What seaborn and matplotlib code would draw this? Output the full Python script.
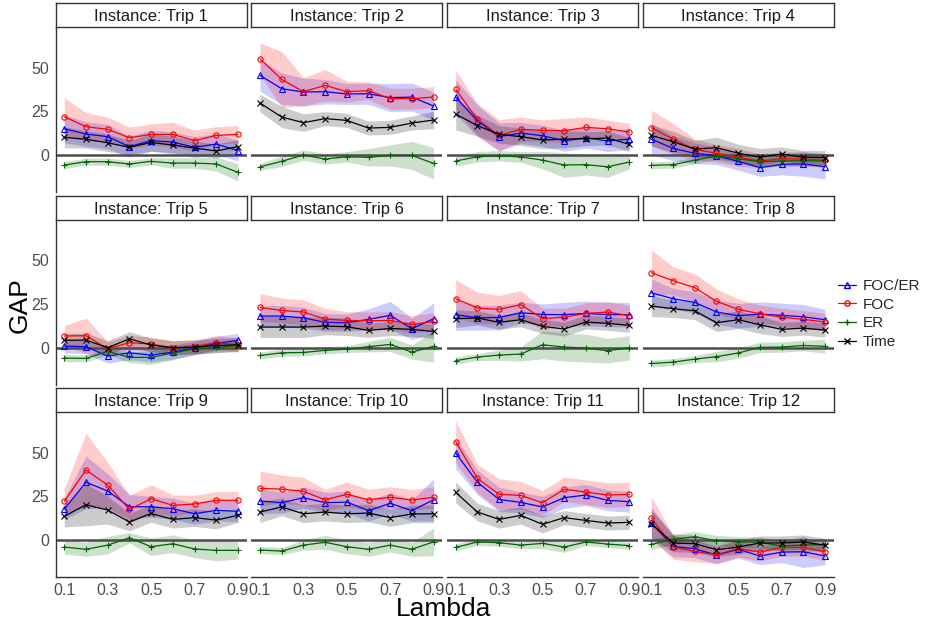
import numpy as np
import pandas as pd
import matplotlib
matplotlib.use("Agg")
import matplotlib.pyplot as plt
from matplotlib.lines import Line2D
import seaborn as sns

# ---- data -------------------------------------------------------------
lambdas = [0.1, 0.2, 0.3, 0.4, 0.5, 0.6, 0.7, 0.8, 0.9]
trips = [f"Instance: Trip {i}" for i in range(1, 13)]
series_names = ["FOC/ER", "FOC", "ER", "Time"]

foc_er_gap = [
    [15.0, 12.0, 10.5, 4.8, 8.2, 7.4, 4.4, 6.3, 2.5],
    [45.5, 37.9, 36.0, 36.2, 34.9, 35.0, 32.8, 33.1, 28.0],
    [33.0, 19.6, 10.5, 12.6, 11.0, 8.2, 9.9, 8.0, 9.1],
    [9.1, 3.8, 1.0, -0.4, -3.6, -7.2, -5.3, -5.1, -6.7],
    [1.0, 0.6, -4.8, -2.9, -4.2, -2.5, -0.2, 2.5, 4.2],
    [18.1, 18.1, 17.1, 14.5, 14.3, 16.2, 18.5, 10.9, 16.6],
    [18.9, 17.1, 17.3, 20.0, 19.0, 18.9, 19.6, 18.9, 18.9],
    [31.4, 28.0, 25.9, 20.4, 18.3, 19.2, 18.5, 17.7, 16.0],
    [17.7, 33.0, 28.0, 19.0, 19.0, 17.9, 15.0, 17.0, 16.4],
    [22.3, 21.3, 24.2, 21.3, 21.7, 16.8, 21.0, 16.8, 23.0],
    [49.7, 33.0, 23.2, 21.5, 18.9, 24.2, 25.7, 22.7, 21.9],
    [9.7, -3.6, -5.0, -8.6, -5.3, -9.1, -6.9, -6.7, -9.1],
]
foc_gap = [
    [21.9, 16.2, 14.7, 9.9, 11.8, 11.8, 8.2, 11.2, 11.8],
    [55.0, 43.2, 36.2, 39.8, 36.2, 36.8, 32.2, 32.2, 33.1],
    [37.5, 20.4, 11.2, 14.7, 14.1, 13.9, 15.8, 15.0, 13.1],
    [15.6, 9.1, 3.2, 1.0, -1.3, -3.4, -2.1, -2.3, -3.0],
    [6.7, 6.9, -0.6, 2.9, 2.1, 0.0, 0.6, 2.9, 1.7],
    [23.0, 21.3, 20.4, 16.4, 15.6, 15.4, 15.6, 13.3, 15.0],
    [28.0, 22.7, 21.9, 24.6, 16.6, 17.5, 19.6, 20.4, 18.3],
    [42.9, 38.3, 34.3, 26.5, 21.9, 19.4, 17.5, 16.2, 14.7],
    [22.1, 40.0, 31.4, 17.5, 23.6, 19.8, 20.6, 22.7, 22.7],
    [29.5, 29.1, 27.8, 23.0, 26.1, 23.0, 24.4, 22.9, 24.4],
    [56.2, 35.2, 26.1, 25.5, 21.3, 29.0, 27.4, 25.7, 26.1],
    [12.6, -4.0, -6.5, -8.4, -4.8, -6.9, -4.2, -4.2, -6.7],
]
er_gap = [
    [-5.7, -3.8, -3.8, -5.1, -3.6, -4.6, -4.6, -5.1, -9.9],
    [-6.7, -3.6, 0.0, -2.3, -1.0, -1.3, -0.2, -0.2, -4.8],
    [-3.4, -1.0, -0.4, -1.1, -2.9, -5.7, -5.5, -6.7, -4.0],
    [-5.9, -5.5, -2.9, -0.6, -2.1, -3.8, -3.4, -3.2, -3.4],
    [-5.9, -6.1, -2.1, -5.5, -5.5, -3.0, -0.6, 0.2, 1.3],
    [-4.4, -2.9, -2.7, -1.5, -0.8, 0.6, 1.9, -2.5, 0.8],
    [-7.4, -5.3, -4.2, -3.6, 1.7, 0.4, -0.2, -1.7, 0.0],
    [-9.0, -8.2, -6.5, -5.1, -3.0, 0.2, 0.4, 1.3, 0.8],
    [-4.0, -5.3, -2.9, 1.3, -3.8, -2.1, -5.1, -5.9, -5.9],
    [-5.7, -6.3, -2.9, -1.3, -3.8, -5.3, -2.9, -5.3, -1.0],
    [-4.2, -1.1, -1.5, -2.9, -1.9, -4.0, -1.1, -2.3, -3.2],
    [-2.5, 0.4, 1.9, -0.4, -1.0, -1.3, -3.4, -2.9, -2.5],
]
time_gap = [
    [10.1, 9.0, 7.0, 4.4, 7.2, 5.7, 4.0, 2.3, 4.8],
    [29.7, 21.7, 18.5, 20.8, 19.8, 15.4, 15.8, 18.3, 20.0],
    [23.4, 16.8, 11.8, 10.5, 8.6, 9.1, 9.3, 9.7, 6.1],
    [11.2, 7.6, 3.4, 4.2, 1.1, -1.3, 0.6, -1.3, -1.5],
    [4.2, 4.4, 0.0, 5.1, 1.5, 0.0, 0.4, 1.3, 1.7],
    [11.8, 11.8, 11.8, 12.4, 12.0, 9.9, 11.0, 10.5, 9.3],
    [16.6, 17.0, 14.5, 16.0, 12.2, 10.7, 14.7, 13.9, 12.8],
    [23.8, 22.3, 21.1, 14.3, 16.0, 13.1, 10.5, 11.2, 10.1],
    [13.5, 20.2, 17.1, 10.3, 15.2, 11.8, 12.8, 11.4, 14.1],
    [16.0, 18.9, 15.0, 16.0, 15.0, 15.4, 12.8, 14.9, 15.0],
    [27.2, 16.0, 11.8, 14.1, 9.0, 12.8, 11.2, 9.7, 10.1],
    [9.3, -1.7, -2.1, -5.5, -4.0, -1.7, -1.7, -1.1, -3.0],
]

# half-widths of the shaded bands around each series
foc_er_band = [
    [8, 7, 7, 6, 6, 6, 6, 6, 6],
    [9, 9, 8, 7, 6, 6, 8, 8, 8],
    [10, 9, 8, 6, 6, 6, 6, 6, 6],
    [9, 7, 6, 5, 5, 5, 6, 7, 7],
    [4, 4, 4, 4, 4, 4, 4, 4, 4],
    [6, 6, 6, 5, 5, 6, 8, 6, 9],
    [9, 7, 7, 6, 6, 7, 7, 7, 7],
    [8, 6, 6, 7, 7, 7, 7, 7, 6],
    [6, 15, 10, 7, 6, 6, 6, 6, 6],
    [7, 6, 6, 6, 6, 6, 6, 6, 12],
    [9, 7, 7, 6, 6, 6, 6, 6, 6],
    [9, 6, 5, 5, 5, 5, 6, 9, 5],
]
foc_band = [
    [11, 8, 7, 6, 6, 7, 6, 5, 5],
    [9, 16, 8, 9, 6, 5, 6, 6, 6],
    [11, 9, 9, 7, 6, 7, 6, 5, 5],
    [10, 9, 6, 5, 5, 4, 4, 4, 4],
    [6, 10, 4, 4, 4, 4, 4, 4, 4],
    [8, 7, 7, 6, 5, 5, 5, 5, 5],
    [11, 9, 8, 8, 6, 5, 6, 6, 6],
    [13, 8, 8, 7, 6, 5, 5, 5, 5],
    [7, 21, 13, 8, 8, 6, 5, 5, 5],
    [10, 8, 8, 6, 7, 6, 6, 6, 6],
    [12, 8, 9, 8, 7, 7, 7, 7, 7],
    [12, 7, 6, 5, 5, 5, 5, 5, 5],
]
er_band = [
    [2, 2, 2, 2, 2, 3, 3, 4, 5],
    [2, 3, 3, 3, 3, 5, 6, 8, 9],
    [3, 3, 3, 3, 5, 7, 6, 6, 4],
    [2, 2, 2, 2, 3, 3, 3, 3, 3],
    [2, 2, 2, 3, 4, 4, 3, 3, 3],
    [2, 2, 2, 2, 2, 3, 4, 4, 9],
    [2, 2, 3, 4, 8, 8, 8, 7, 7],
    [2, 2, 2, 3, 3, 3, 3, 3, 4],
    [4, 4, 5, 3, 5, 5, 5, 6, 5],
    [2, 2, 3, 4, 4, 4, 4, 4, 8],
    [2, 2, 2, 2, 3, 3, 2, 2, 2],
    [3, 3, 3, 3, 3, 3, 3, 4, 3],
]
time_band = [
    [6, 5, 5, 4, 5, 5, 4, 4, 4],
    [5, 6, 5, 4, 4, 4, 4, 4, 5],
    [9, 6, 5, 5, 5, 5, 4, 4, 4],
    [6, 6, 5, 6, 5, 5, 4, 4, 4],
    [4, 4, 4, 4, 4, 4, 4, 4, 4],
    [6, 6, 6, 5, 5, 4, 4, 4, 4],
    [5, 4, 4, 4, 4, 4, 4, 4, 4],
    [6, 5, 5, 5, 5, 5, 4, 4, 4],
    [6, 12, 8, 5, 5, 5, 5, 5, 4],
    [6, 5, 5, 5, 5, 5, 5, 5, 5],
    [6, 5, 5, 5, 5, 4, 4, 4, 4],
    [8, 5, 5, 4, 4, 4, 4, 4, 4],
]

# ---- tidy table -------------------------------------------------------
values = {"FOC/ER": foc_er_gap, "FOC": foc_gap, "ER": er_gap, "Time": time_gap}
bands = {"FOC/ER": foc_er_band, "FOC": foc_band, "ER": er_band, "Time": time_band}
rows = []
for name in series_names:
    for t, trip in enumerate(trips):
        for k, lam in enumerate(lambdas):
            g = values[name][t][k]
            h = bands[name][t][k]
            rows.append((trip, name, lam, g, g - h, g + h))
df = pd.DataFrame(rows, columns=["trip", "series", "lambda", "gap", "lo", "hi"])

colors = {"FOC/ER": "#0000ff", "FOC": "#ff0000", "ER": "#006400", "Time": "#000000"}
markers = {"FOC/ER": "^", "FOC": "o", "ER": "+", "Time": "x"}

# ---- figure -----------------------------------------------------------
sns.set_theme(style="white")
plt.rcParams["font.family"] = ["Liberation Sans", "DejaVu Sans"]

W, H = 938, 623
fig = plt.figure(figsize=(W / 100, H / 100), dpi=100)


def rect(x, y, w, h):
    return [x / W, 1 - (y + h) / H, w / W, h / H]


col_left = [55.6, 251.3, 447.0, 642.7]
row_top = [28.3, 221.0, 413.3]
panel_w, panel_h, strip_h = 191.0, 163.5, 24.0
axis_col = "#333333"
tick_col = "#4d4d4d"
msize = 3.8

for i, trip in enumerate(trips):
    r, c = divmod(i, 4)
    ax = fig.add_axes(rect(col_left[c], row_top[r], panel_w, panel_h))
    sub = df[df["trip"] == trip]

    for name in series_names:
        s = sub[sub["series"] == name]
        ax.fill_between(s["lambda"], s["lo"], s["hi"], color=colors[name],
                        alpha=0.2, linewidth=0, zorder=1)
    ax.axhline(0, color="#4d4d4d", lw=1.8, zorder=2)
    for name in series_names:
        s = sub[sub["series"] == name]
        sns.lineplot(data=s, x="lambda", y="gap", ax=ax, color=colors[name],
                     marker=markers[name], markersize=msize,
                     markerfacecolor="none", mec=colors[name], mew=0.8,
                     lw=0.9, legend=False, zorder=3)

    ax.set_xlim(0.06, 0.94)
    ax.set_ylim(-21, 72.4)
    ax.set_xlabel("")
    ax.set_ylabel("")
    ax.set_xticks([0.1, 0.3, 0.5, 0.7, 0.9])
    ax.set_yticks([0, 25, 50])
    for sp in ax.spines.values():
        sp.set_visible(False)
    ax.set_facecolor("white")
    ax.tick_params(colors=axis_col, labelcolor=tick_col, labelsize=11.5,
                   length=2.8, width=0.8, pad=2)
    if c == 0:
        ax.spines["left"].set_visible(True)
        ax.spines["left"].set_color(axis_col)
        ax.spines["left"].set_linewidth(1.0)
    else:
        ax.tick_params(axis="y", left=False, labelleft=False)
    if r == 2:
        ax.spines["bottom"].set_visible(True)
        ax.spines["bottom"].set_color(axis_col)
        ax.spines["bottom"].set_linewidth(1.0)
        ax.set_xticklabels(["0.1", "0.3", "0.5", "0.7", "0.9"])
    else:
        ax.tick_params(axis="x", bottom=False, labelbottom=False)

    # facet strip
    sax = fig.add_axes(rect(col_left[c], row_top[r] - strip_h - 1, panel_w, strip_h))
    sax.set_xticks([])
    sax.set_yticks([])
    sax.set_facecolor("white")
    for sp in sax.spines.values():
        sp.set_color(axis_col)
        sp.set_linewidth(1.0)
    sax.text(0.5, 0.45, trip, ha="center", va="center", fontsize=12,
             color="#1a1a1a", transform=sax.transAxes)

fig.text(20 / W, 1 - 305 / H, "GAP", rotation=90, ha="center", va="center",
         fontsize=19, color="black")
fig.text(444 / W, 1 - 609 / H, "Lambda", ha="center", va="center",
         fontsize=19, color="black")

handles = [Line2D([0], [0], color=colors[n], marker=markers[n], markersize=msize,
                  markerfacecolor="none", mec=colors[n], lw=0.9)
           for n in series_names]
fig.legend(handles, series_names, loc="center left",
           bbox_to_anchor=(838 / W, 1 - 314 / H), frameon=False, fontsize=11,
           handlelength=1.2, handletextpad=0.4, labelspacing=0.3,
           borderaxespad=0, borderpad=0)

fig.savefig("out.png", dpi=100, facecolor="white")
